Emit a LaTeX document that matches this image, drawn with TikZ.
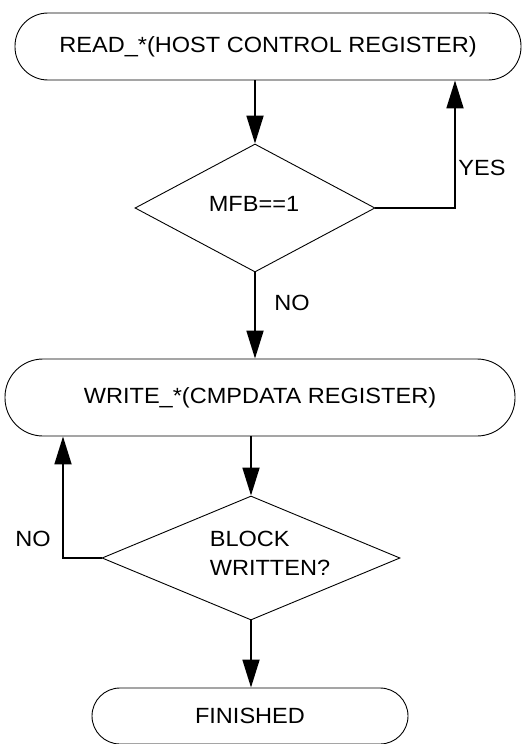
\documentclass[tikz,border=0pt]{standalone}
\usepackage{fontspec}
\setmainfont[FakeStretch=1.07]{Liberation Sans}
\usetikzlibrary{arrows.meta,shapes.geometric}
\begin{document}
\begin{tikzpicture}[x=1pt,y=-1pt,
  term/.style={draw,line width=0.9pt,rectangle,inner sep=0pt,font=\fontsize{22}{26}\selectfont},
  decision/.style={draw,line width=0.9pt,diamond,inner sep=0pt,shape aspect=2},
  lbl/.style={inner sep=0pt,font=\fontsize{22}{29}\selectfont},
  arr/.style={line width=1.8pt,-{Triangle[length=28pt,width=17pt]}},
  ln/.style={line width=1.8pt}]
\useasboundingbox (0,0) rectangle (522,744);
\node[term,minimum width=506pt,minimum height=67pt,rounded corners=33pt] (read) at (268,46.5) {READ\_*(HOST CONTROL REGISTER)};
\node[decision,minimum width=240pt,minimum height=128pt] (d1) at (255,208) {};
\node[lbl] (t1) at (254,204) {MFB==1};
\node[term,minimum width=510pt,minimum height=77pt,rounded corners=38pt] (write) at (260,397.5) {WRITE\_*(CMPDATA REGISTER)};
\node[decision,minimum width=298pt,minimum height=124pt] (d2) at (251,558) {};
\node[lbl,align=left] (t2) at (270,553) {BLOCK\\WRITTEN?};
\node[term,minimum width=316pt,minimum height=56pt,rounded corners=28pt] (fin) at (250,716) {FINISHED};
\node[lbl] (yes) at (482,168) {YES};
\node[lbl] (no1) at (292,303) {NO};
\node[lbl] (no2) at (33,539) {NO};
\draw[arr] (read.south -| d1.north) -- (d1.north);
\draw[arr] (d1.east) -| ([xshift=187pt]read.south);
\draw[arr] (d1.south) -- (write.north -| d1.south);
\draw[arr] (write.south -| d2.north) -- (d2.north);
\draw[arr] (d2.west) -| ([xshift=-197pt]write.south);
\draw[arr] (d2.south) -- (fin.north -| d2.south);
\end{tikzpicture}
\end{document}
